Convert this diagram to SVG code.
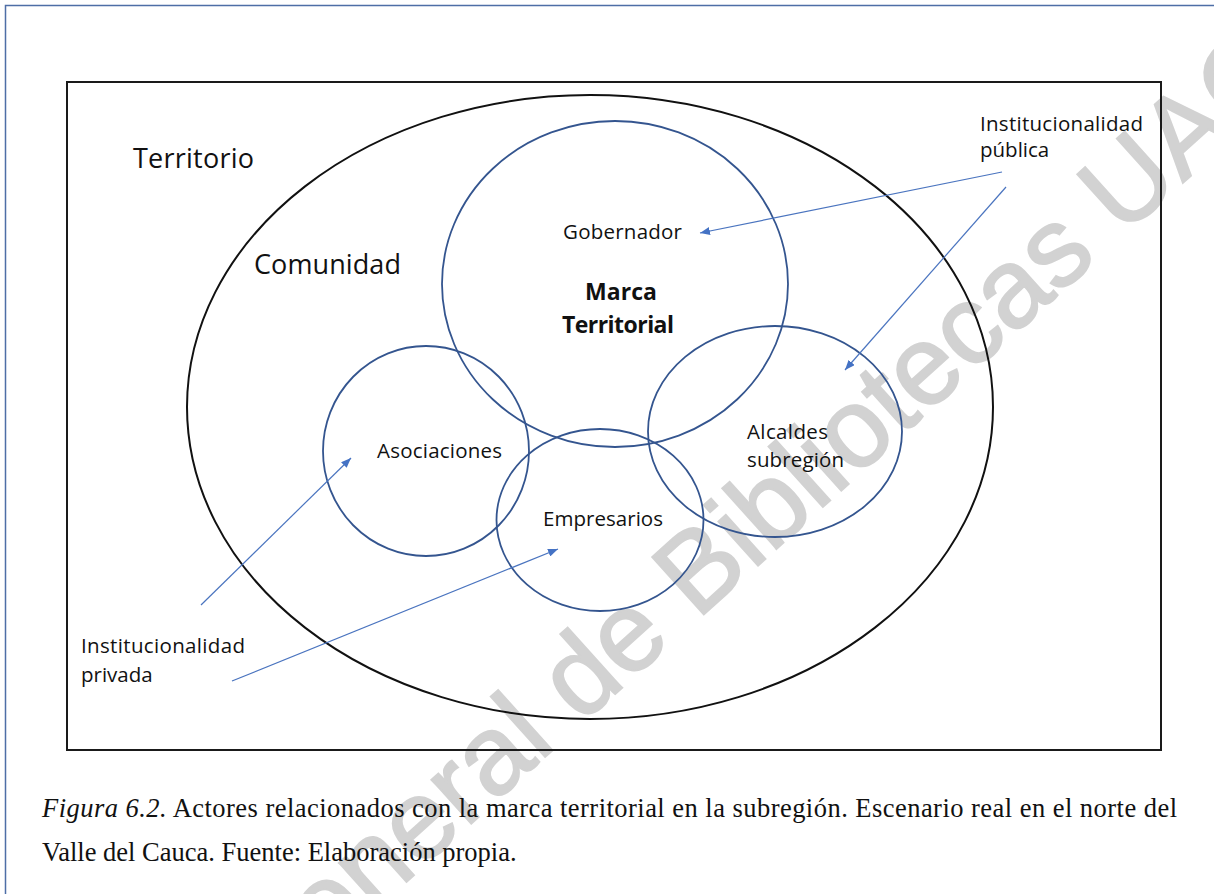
<svg xmlns="http://www.w3.org/2000/svg" width="1214" height="894" viewBox="0 0 1214 894">
  <style>
    .frame { fill: none; stroke: #4e6ea6; stroke-width: 1.5; }
    .box { fill: none; stroke: #1a1a1a; stroke-width: 2; }
    .community { fill: none; stroke: #111; stroke-width: 2; }
    .actor { fill: none; stroke: #34558f; stroke-width: 1.8; }
    .label { font-family: "Open Sans", "Noto Sans", sans-serif; fill: #111; }
    .big { font-size: 27px; }
    .small { font-size: 20.5px; }
    .bold { font-size: 23px; font-weight: bold; }
    .link { fill: none; stroke: #4a74bf; stroke-width: 1.2; }
    .caption { font-family: "Liberation Serif", "Times New Roman", serif; font-size: 26.5px; fill: #111; }
    .mark { font-family: "Liberation Sans", Arial, sans-serif; font-size: 112px; fill: #d2d2d2; stroke: #d2d2d2; stroke-width: 2; }
  </style>
  <defs>
    <marker id="head" viewBox="0 0 10 8" refX="10" refY="4" markerWidth="10" markerHeight="8" markerUnits="userSpaceOnUse" orient="auto">
      <path d="M0,0 L10,4 L0,8 Z" fill="#4472c4"/>
    </marker>
  </defs>

  <rect width="1214" height="894" fill="#ffffff"/>

  <!-- library stamp across the page -->
  <text class="mark" transform="translate(262,1012) rotate(-42)">General de Bibliotecas UAO</text>

  <!-- page frame: left and top rules -->
  <path class="frame" d="M5.5,894 V5.5 H1214"/>

  <!-- figure box -->
  <rect class="box" x="67" y="82" width="1094" height="668"/>
  <text class="label big" x="133" y="168" textLength="121">Territorio</text>

  <g id="comunidad">
    <ellipse class="community" cx="590" cy="407" rx="403" ry="312"/>
    <text class="label big" x="254" y="274" textLength="147">Comunidad</text>
  </g>

  <g id="marca">
    <ellipse class="actor" cx="615" cy="284" rx="173" ry="163"/>
    <text class="label small" x="563" y="239" textLength="119">Gobernador</text>
    <text class="label bold" x="585" y="300" textLength="72">Marca</text>
    <text class="label bold" x="562" y="333" textLength="112">Territorial</text>
  </g>

  <g id="asociaciones">
    <ellipse class="actor" cx="426" cy="451" rx="103" ry="105"/>
    <text class="label small" x="377" y="458" textLength="125">Asociaciones</text>
  </g>

  <g id="empresarios">
    <ellipse class="actor" cx="600" cy="520" rx="103.5" ry="91"/>
    <text class="label small" x="543" y="526" textLength="120">Empresarios</text>
  </g>

  <g id="alcaldes">
    <ellipse class="actor" cx="775" cy="431.5" rx="127" ry="105.5"/>
    <text class="label small" x="747" y="439" textLength="81">Alcaldes</text>
    <text class="label small" x="747" y="467" textLength="97">subregión</text>
  </g>

  <g id="publica">
    <text class="label small" x="980" y="131" textLength="163">Institucionalidad</text>
    <text class="label small" x="980" y="157">pública</text>
  </g>

  <g id="privada">
    <text class="label small" x="81" y="653" textLength="164">Institucionalidad</text>
    <text class="label small" x="81" y="682">privada</text>
  </g>

  <g id="connectors">
    <line class="link" x1="1002" y1="172" x2="700" y2="233" marker-end="url(#head)"/>
    <line class="link" x1="1006" y1="187" x2="845" y2="370" marker-end="url(#head)"/>
    <line class="link" x1="201" y1="605" x2="351" y2="458" marker-end="url(#head)"/>
    <line class="link" x1="232" y1="681" x2="558" y2="549" marker-end="url(#head)"/>
  </g>

  <!-- caption -->
  <text class="caption" x="42" y="817" textLength="1135" lengthAdjust="spacing"><tspan font-style="italic">Figura 6.2.</tspan> Actores relacionados con la marca territorial en la subregión. Escenario real en el norte del</text>
  <text class="caption" x="42" y="861">Valle del Cauca. Fuente: Elaboración propia.</text>
</svg>
